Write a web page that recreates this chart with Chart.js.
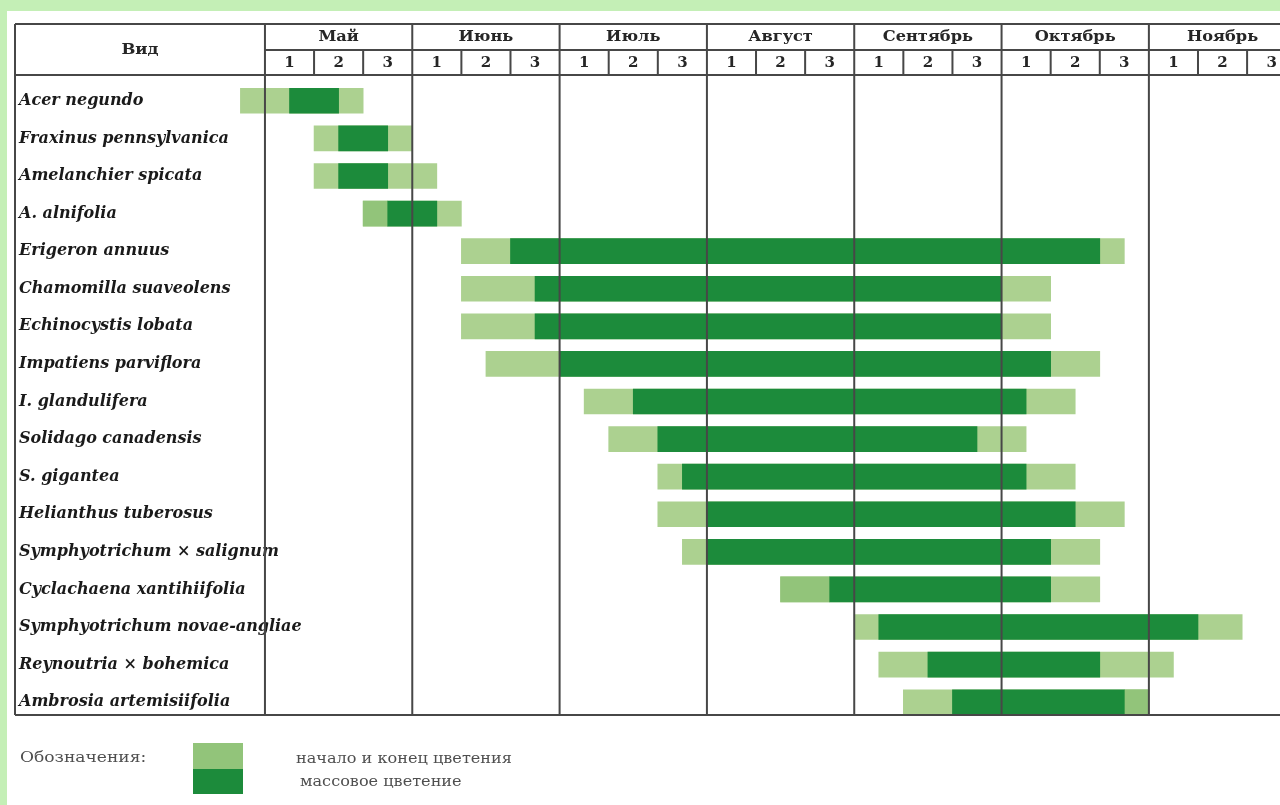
<!DOCTYPE html>
<html>
<head>
<meta charset="utf-8">
<script src="https://cdn.jsdelivr.net/npm/chart.js@4.4.0/dist/chart.umd.min.js"></script>
<style>
body { margin: 0; background: #c4efb6; width: 1280px; height: 805px; overflow: hidden; position: relative; }
#panel { position: absolute; left: 7px; top: 11px; right: 0; bottom: 0; background: #fff; }
canvas { position: absolute; left: 0; top: 0; }
</style>
</head>
<body>
<div id="panel"></div>
<canvas id="phenology" width="1280" height="805"></canvas>
<script>
// decades counted from 1st decade of May = 0
const species = [
    'Acer negundo', 'Fraxinus pennsylvanica', 'Amelanchier spicata', 'A. alnifolia',
    'Erigeron annuus', 'Chamomilla suaveolens', 'Echinocystis lobata', 'Impatiens parviflora',
    'I. glandulifera', 'Solidago canadensis', 'S. gigantea', 'Helianthus tuberosus',
    'Symphyotrichum × salignum', 'Cyclachaena xantihiifolia', 'Symphyotrichum novae-angliae',
    'Reynoutria × bohemica', 'Ambrosia artemisiifolia'
]
const flowerStart = [-0.5, 1, 1, 2, 4, 4, 4, 4.5, 6.5, 7, 8, 8, 8.5, 10.5, 12, 12.5, 13]
const flowerEnd   = [2, 3, 3.5, 4, 17.5, 16, 16, 17, 16.5, 15.5, 16.5, 17.5, 17, 17, 19.9, 18.5, 18]
const massStart   = [0.5, 1.5, 1.5, 2.5, 5, 5.5, 5.5, 6, 7.5, 8, 8.5, 9, 9, 11.5, 12.5, 13.5, 14]
const massEnd     = [1.5, 2.5, 2.5, 3.5, 17, 15, 15, 16, 15.5, 14.5, 15.5, 16.5, 16, 16, 19, 17, 17.5]
// a few edge segments are printed a bit darker
const edgeStart   = [null, null, null, 2, null, null, null, null, null, null, null, null, null, 10.5, null, null, 17.5]
const edgeEnd     = [null, null, null, 2.5, null, null, null, null, null, null, null, null, null, 11.5, null, null, 18]

const months = ['Май', 'Июнь', 'Июль', 'Август', 'Сентябрь', 'Октябрь', 'Ноябрь']
const decades = ['1', '2', '3']
const firstColumn = 'Вид'
const legendTitle = 'Обозначения:'
const legendLabels = ['начало и конец цветения', 'массовое цветение']

const LIGHT = '#acd190'
const MEDIUM = '#92c47a'
const DARK = '#1c8b3b'
const LINE = '#474747'
const serif = "'DejaVu Serif', 'Liberation Serif', serif"

function pairs(a, b) {
    return a.map((v, i) => v === null ? null : [v, b[i]])
}

// the scan is a bit stretched sideways
function wideText(ctx, text, x, y, sx) {
    ctx.save()
    ctx.translate(x, y)
    ctx.scale(sx, 1)
    ctx.fillText(text, 0, 0)
    ctx.restore()
}

const tablePlugin = {
    id: 'table',
    afterDatasetsDraw(chart) {
        const ctx = chart.ctx
        const x = chart.scales.x
        const left = chart.chartArea.left
        const right = chart.chartArea.right
        const top = 24, mid = 50, head = 75, bottom = 715

        ctx.save()
        ctx.strokeStyle = LINE
        ctx.lineWidth = 2
        ctx.beginPath()
        ctx.moveTo(left, top); ctx.lineTo(right, top)
        ctx.moveTo(left, head); ctx.lineTo(right, head)
        ctx.moveTo(left, bottom); ctx.lineTo(right, bottom)
        ctx.moveTo(x.getPixelForValue(0), mid); ctx.lineTo(right, mid)
        ctx.moveTo(left, top); ctx.lineTo(left, bottom)
        months.forEach((m, i) => {
            const px = x.getPixelForValue(i * 3)
            ctx.moveTo(px, top); ctx.lineTo(px, bottom)
            for (let d = 1; d < 3; d++) {
                const dx = x.getPixelForValue(i * 3 + d)
                ctx.moveTo(dx, mid); ctx.lineTo(dx, head)
            }
        })
        ctx.stroke()

        ctx.fillStyle = '#262626'
        ctx.textAlign = 'center'
        ctx.textBaseline = 'middle'
        ctx.font = 'bold 15px ' + serif
        wideText(ctx, firstColumn, (left + x.getPixelForValue(0)) / 2, 50, 1.1)
        months.forEach((m, i) => {
            ctx.font = 'bold 15px ' + serif
            wideText(ctx, m, x.getPixelForValue(i * 3 + 1.5), 37, 1.08)
            ctx.font = 'bold 15px ' + serif
            decades.forEach((d, j) => {
                ctx.fillText(d, x.getPixelForValue(i * 3 + j + 0.5), 63)
            })
        })

        // legend
        ctx.fillStyle = MEDIUM
        ctx.fillRect(193, 743, 50, 26)
        ctx.fillStyle = DARK
        ctx.fillRect(193, 769, 50, 25)
        ctx.fillStyle = '#4f4f4f'
        ctx.textAlign = 'left'
        ctx.font = '15px ' + serif
        wideText(ctx, legendTitle, 20, 758, 1.14)
        ctx.font = '14px ' + serif
        wideText(ctx, legendLabels[0], 296, 759, 1.15)
        wideText(ctx, legendLabels[1], 300, 782, 1.15)
        ctx.restore()
    }
}

new Chart(document.getElementById('phenology'), {
    type: 'bar',
    data: {
        labels: species,
        datasets: [
            { label: 'массовое цветение', data: pairs(massStart, massEnd), backgroundColor: DARK },
            { label: 'край', data: pairs(edgeStart, edgeEnd), backgroundColor: MEDIUM },
            { label: 'начало и конец цветения', data: pairs(flowerStart, flowerEnd), backgroundColor: LIGHT }
        ]
    },
    options: {
        indexAxis: 'y',
        responsive: false,
        animation: false,
        datasets: { bar: { grouped: false, barThickness: 25, borderSkipped: false } },
        layout: { padding: { left: 15, right: 0, top: 82, bottom: 84 } },
        plugins: { legend: { display: false }, tooltip: { enabled: false } },
        scales: {
            x: { type: 'linear', min: -5.09, max: 20.67, display: false },
            y: {
                grid: { display: false },
                border: { display: false },
                afterFit: (axis) => { axis.width = 0 },
                ticks: {
                    mirror: true,
                    padding: 4,
                    autoSkip: false,
                    color: '#1a1a1a',
                    font: { family: serif, size: 16, style: 'italic', weight: 'bold' }
                }
            }
        }
    },
    plugins: [tablePlugin]
})
</script>
</body>
</html>
